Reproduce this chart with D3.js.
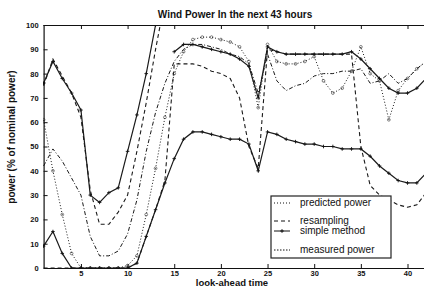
<!DOCTYPE html>
<html>
<head>
<meta charset="utf-8">
<script src="https://cdn.jsdelivr.net/npm/d3@7"></script>
<style>
body { margin: 0; background: #fff; }
text { font-family: "Liberation Sans", Arial, sans-serif; fill: #111; }
</style>
</head>
<body>
<div id="chart"></div>
<script>
var hours = [1,2,3,4,5,6,7,8,9,10,11,12,13,14,15,16,17,18,19,20,21,22,23,24,25,26,27,28,29,30,31,32,33,34,35,36,37,38,39,40,41,42,43];

var predicted = [61,40,22,6,0, 0,0,0,0,1, 5,22,41,62,80, 89,94,95,95,94, 93,91,85,66,92,
                 85,84,84,85,87, 77,72,74,81,91, 80,77,61,73,78, 82,85,88];
// upper resampling bound leaves the chart after hour 13
var resampUp = [75,86,79,72,62, 32,18,18,23,30, 48,68,90,110];
var resampLow = [0,0,0,0,0, 0,0,0,0,0, 2,13,24,36,84, 84,84,83,81,80, 78,70,50,41,90,
                 89,88,88,88,88, 88,88,88,88,50, 34,30,28,26,25, 26,31,36];
// hour 14 is above the chart
var simpleUp = [76,85,78,72,65, 30,27,31,33,48, 63,80,100,null,89, 92,92,91,90,89, 88,86,83,70,91,
                89,88,88,88,88, 88,88,88,89,86, 82,78,74,72,72, 74,78,82];
var simpleLow = [9,15,6,0,0, 0,0,0,0,0, 2,13,24,35,45, 53,56,56,55,54, 53,53,51,40,56,
                 55,53,52,51,51, 50,50,49,49,49, 46,42,39,36,35, 35,39,45];
var measured = [42,49,44,37,30, 13,5,5,7,14, 28,48,64,76,85, 90,92,92,91,90, 88,87,84,72,88,
                77,73,75,76,79, 80,80,81,81,82, 76,77,80,76,78, 82,85,88];

var xTicks = [5,10,15,20,25,30,35,40];
var yTicks = [0,10,20,30,40,50,60,70,80,90,100];
var legendNames = ["predicted power", "resampling", "simple method", "measured power"];

var svg = d3.select("#chart").append("svg")
    .attr("width", 424).attr("height", 289);

var x = d3.scaleLinear().domain([1, 43]).range([43.6, 435.5]);
var y = d3.scaleLinear().domain([0, 100]).range([268, 25]);

svg.append("clipPath").attr("id", "plotclip")
    .append("rect").attr("x", 43).attr("y", 25).attr("width", 400).attr("height", 243);

var plot = svg.append("g").attr("clip-path", "url(#plotclip)");

var line = d3.line()
    .defined(function(d) { return d[1] != null; })
    .x(function(d) { return x(d[0]); })
    .y(function(d) { return y(d[1]); });

function pts(arr) { return arr.map(function(v, i) { return [hours[i], v]; }); }

var styles = [
    {data: predicted, dash: "1,2", w: 1},
    {data: resampUp, dash: "4,3", w: 1.1},
    {data: resampLow, dash: "4,3", w: 1.1},
    {data: measured, dash: "4,2,1,2", w: 1},
    {data: simpleUp, dash: null, w: 1.2},
    {data: simpleLow, dash: null, w: 1.2}
];

styles.forEach(function(s) {
    plot.append("path")
        .attr("d", line(pts(s.data)))
        .attr("fill", "none")
        .attr("stroke", "#1a1a1a")
        .attr("stroke-width", s.w)
        .attr("stroke-dasharray", s.dash);
});

// small circles on the predicted curve
plot.append("g").selectAll("circle")
    .data(pts(predicted))
    .join("circle")
    .attr("cx", function(d) { return x(d[0]); })
    .attr("cy", function(d) { return y(d[1]); })
    .attr("r", 1.4)
    .attr("fill", "none")
    .attr("stroke", "#333")
    .attr("stroke-width", 0.6);

// plus markers on simple method curves
[simpleUp, simpleLow].forEach(function(arr) {
    plot.append("g").selectAll("path")
        .data(pts(arr).filter(function(d) { return d[1] != null; }))
        .join("path")
        .attr("d", function(d) {
            var cx = x(d[0]), cy = y(d[1]);
            return "M" + (cx - 1.8) + "," + cy + "H" + (cx + 1.8) + "M" + cx + "," + (cy - 1.8) + "V" + (cy + 1.8);
        })
        .attr("stroke", "#111")
        .attr("stroke-width", 0.9);
});

// axes
var xAxis = svg.append("g")
    .attr("transform", "translate(0,268)")
    .call(d3.axisBottom(x).tickValues(xTicks).tickSize(-4).tickPadding(3));
var xTop = svg.append("g")
    .attr("transform", "translate(0,25)")
    .call(d3.axisTop(x).tickValues(xTicks).tickSize(-4).tickFormat(""));
var yAxis = svg.append("g")
    .attr("transform", "translate(43.6,0)")
    .call(d3.axisLeft(y).tickValues(yTicks).tickSize(-4).tickPadding(5));

[xAxis, xTop, yAxis].forEach(function(a) {
    a.select(".domain").attr("stroke", "#111").attr("stroke-width", 1.2);
    a.selectAll(".tick line").attr("stroke", "#111");
    a.selectAll(".tick text").attr("font-size", 7.5).attr("font-weight", "bold")
        .attr("font-family", "'Liberation Sans', Arial, sans-serif").attr("fill", "#111");
});
xAxis.select(".domain").attr("d", "M43.6,0.5H424");
xTop.select(".domain").attr("d", "M43.6,0.5H424");
yAxis.select(".domain").attr("d", "M0.5,25V268");

// titles
svg.append("text").attr("x", 235).attr("y", 18).attr("text-anchor", "middle")
    .attr("font-size", 10).attr("font-weight", "bold").text("Wind Power In the next 43 hours");
svg.append("text").attr("x", 232).attr("y", 286).attr("text-anchor", "middle")
    .attr("font-size", 9.5).attr("font-weight", "bold").text("look-ahead time");
svg.append("text").attr("transform", "translate(15,137) rotate(-90)").attr("text-anchor", "middle")
    .attr("font-size", 10).attr("font-weight", "bold").text("power (% of nominal power)");

// legend
var lg = svg.append("g");
lg.append("rect").attr("x", 271).attr("y", 196).attr("width", 120).attr("height", 62)
    .attr("fill", "#fff").attr("stroke", "#222").attr("stroke-width", 1.2);
var rows = [206, 224, 234, 253];
var dashes = ["1,2", "4,3", null, "1.5,1.5"];
legendNames.forEach(function(name, i) {
    lg.append("line").attr("x1", 274).attr("x2", 290).attr("y1", rows[i] - 3).attr("y2", rows[i] - 3)
        .attr("stroke", "#111").attr("stroke-width", 1).attr("stroke-dasharray", dashes[i]);
    if (i == 2) {
        lg.append("path").attr("d", "M280.2," + (rows[i] - 3) + "H283.8M282," + (rows[i] - 4.8) + "V" + (rows[i] - 1.2))
            .attr("stroke", "#111");
    }
    lg.append("text").attr("x", 300).attr("y", rows[i]).attr("font-size", 10).text(name);
});
</script>
</body>
</html>
